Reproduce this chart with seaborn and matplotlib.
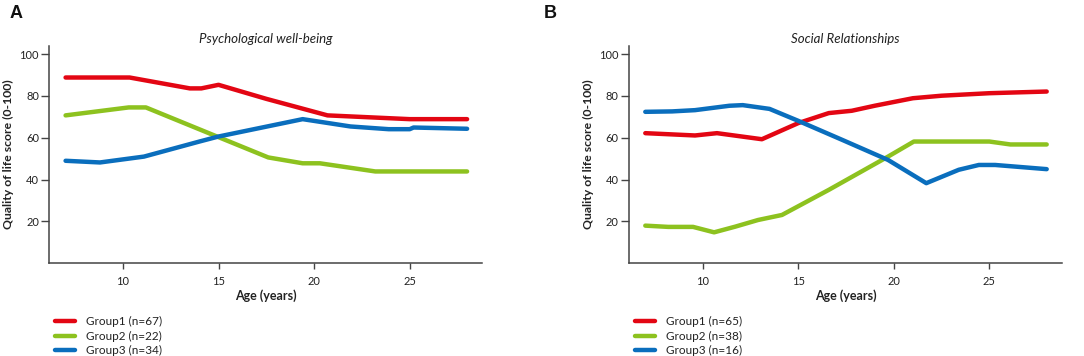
import pandas as pd
import numpy as np
import seaborn as sns
import matplotlib.pyplot as plt

# panel A: psychological well-being
a_g1_age = [7, 10.35, 13.5, 14.1, 15.0, 17.5, 20.7, 25.0, 28.0]
a_g1_val = [88.8, 88.8, 83.6, 83.6, 85.3, 78.6, 70.7, 68.9, 68.9]
a_g2_age = [7, 10.3, 11.2, 15.0, 17.6, 19.4, 20.3, 23.2, 28.0]
a_g2_val = [70.7, 74.5, 74.5, 60.3, 50.6, 47.8, 47.8, 43.9, 43.9]
a_g3_age = [7, 8.8, 11.1, 14.0, 15.0, 19.4, 21.9, 23.9, 25.0, 25.2, 28.0]
a_g3_val = [49.0, 48.2, 51.0, 58.2, 60.6, 68.9, 65.4, 64.1, 64.1, 64.9, 64.3]

# panel B: social relationships
b_g1_age = [7, 9.6, 10.75, 13.1, 15.0, 16.6, 17.8, 19.0, 21.0, 22.5, 25.0, 28.0]
b_g1_val = [62.2, 61.1, 62.2, 59.3, 67.0, 71.8, 72.9, 75.3, 78.9, 80.1, 81.3, 82.1]
b_g2_age = [7, 8.2, 9.5, 10.6, 11.7, 12.9, 14.15, 16.6, 19.7, 21.05, 25.0, 26.1, 28.0]
b_g2_val = [18.0, 17.4, 17.4, 14.8, 17.5, 20.7, 23.1, 35.1, 51.0, 58.2, 58.2, 56.8, 56.8]
b_g3_age = [7, 8.4, 9.6, 11.4, 12.1, 13.5, 15.0, 17.3, 19.7, 21.7, 23.4, 24.45, 25.3, 28.0]
b_g3_val = [72.4, 72.6, 73.2, 75.3, 75.6, 73.8, 68.1, 59.0, 49.4, 38.3, 44.7, 47.0, 47.0, 45.0]

titles = ['Psychological well-being', 'Social Relationships']
panel_letters = ['A', 'B']
labels_a = ['Group1 (n=67)', 'Group2 (n=22)', 'Group3 (n=34)']
labels_b = ['Group1 (n=65)', 'Group2 (n=38)', 'Group3 (n=16)']
palette = ['#e30613', '#8dc21f', '#0a6ebd']


def make_df(ages, vals, labels):
    frames = []
    for x, y, lab in zip(ages, vals, labels):
        frames.append(pd.DataFrame({'Age': x, 'Score': y, 'Group': lab}))
    return pd.concat(frames, ignore_index=True)


df_a = make_df([a_g1_age, a_g2_age, a_g3_age], [a_g1_val, a_g2_val, a_g3_val], labels_a)
df_b = make_df([b_g1_age, b_g2_age, b_g3_age], [b_g1_val, b_g2_val, b_g3_val], labels_b)

sns.set_style('ticks')
plt.rcParams['font.family'] = ['Lato', 'DejaVu Sans']

fig = plt.figure(figsize=(10.84, 3.56), dpi=100)
ax_a = fig.add_axes([0.0455, 0.2604, 0.3995, 0.6112])
ax_b = fig.add_axes([0.5803, 0.2604, 0.3994, 0.6112])

spine_col = '#444444'
text_col = '#222222'
letter_x = [0.009, 0.502]
for ax, df, labs, title, letter, lx in zip([ax_a, ax_b], [df_a, df_b], [labels_a, labels_b],
                                           titles, panel_letters, letter_x):
    sns.lineplot(data=df, x='Age', y='Score', hue='Group', hue_order=labs,
                 palette=palette, linewidth=3.2, sort=False, estimator=None,
                 ax=ax, legend=True)
    sns.despine(ax=ax)
    ax.set_xlim(6.15, 28.8)
    ax.set_ylim(0, 104)
    ax.set_xticks([10, 15, 20, 25])
    ax.set_yticks([20, 40, 60, 80, 100])
    ax.tick_params(axis='y', length=6, width=1, color=spine_col, labelcolor=text_col,
                   labelsize=8, pad=1.5)
    ax.tick_params(axis='x', length=4, width=1, color=spine_col, labelcolor=text_col,
                   labelsize=8, pad=5)
    for s in ['left', 'bottom']:
        ax.spines[s].set_color(spine_col)
        ax.spines[s].set_linewidth(1.1)
    ax.set_xlabel('Age (years)', fontsize=9, fontweight='bold', labelpad=2, color=text_col)
    ax.set_ylabel('Quality of life score (0-100)', fontsize=8.8, fontweight='bold',
                  labelpad=4, color=text_col)
    ax.set_title(title, fontsize=9.5, fontstyle='italic', pad=2, color=text_col)
    handles, hl = ax.get_legend_handles_labels()
    leg = ax.legend(handles=handles, labels=hl, frameon=False, fontsize=8.5,
                    loc='upper left', bbox_to_anchor=(0.003, -0.222),
                    handlelength=1.7, handletextpad=0.9, labelspacing=0.28,
                    borderaxespad=0)
    for t in leg.get_texts():
        t.set_color(text_col)
    fig.text(lx, 0.962, letter, fontsize=13, fontweight='bold', color='#111111',
             ha='left', va='center', family=['Liberation Sans', 'DejaVu Sans'])

fig.savefig('out.png', dpi=100)
